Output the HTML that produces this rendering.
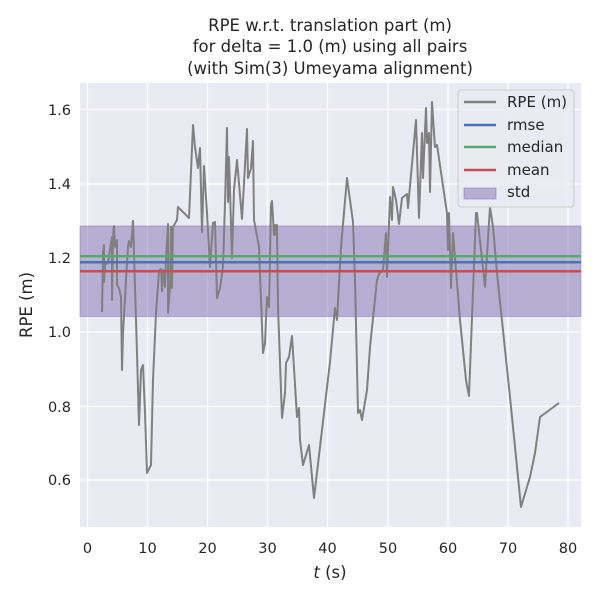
<!DOCTYPE html>
<html><head><meta charset="utf-8"><style>body{margin:0;background:#fff}svg{display:block}</style></head><body>
<svg width="600" height="600" xmlns="http://www.w3.org/2000/svg" font-family="'DejaVu Sans','Liberation Sans',sans-serif">
<rect width="600" height="600" fill="#fff"/>
<rect x="80" y="83" width="501" height="444" fill="#eaeaf2"/>
<g stroke="#fff" stroke-width="1.2">
<line x1="87.5" y1="83" x2="87.5" y2="527"/><line x1="147.5" y1="83" x2="147.5" y2="527"/><line x1="207.5" y1="83" x2="207.5" y2="527"/><line x1="267.5" y1="83" x2="267.5" y2="527"/><line x1="327.5" y1="83" x2="327.5" y2="527"/><line x1="388" y1="83" x2="388" y2="527"/><line x1="448" y1="83" x2="448" y2="527"/><line x1="508" y1="83" x2="508" y2="527"/><line x1="568" y1="83" x2="568" y2="527"/>
<line x1="80" y1="109.5" x2="581" y2="109.5"/><line x1="80" y1="184" x2="581" y2="184"/><line x1="80" y1="258" x2="581" y2="258"/><line x1="80" y1="332" x2="581" y2="332"/><line x1="80" y1="406.5" x2="581" y2="406.5"/><line x1="80" y1="480" x2="581" y2="480"/>
</g>
<rect x="80" y="226" width="501" height="90.5" fill="#8172b3" fill-opacity="0.5" stroke="#8172b3" stroke-opacity="0.5"/>
<polyline fill="none" stroke="#808080" stroke-width="2" stroke-linejoin="round" points="102,312 103,253 104,245 104,282 105,265 108,262 109,257 111,243 112,237 112,300 113,237 114,226 115,247 117,240 117,285 119,288 121,297 122,370 123,333 126,280 128,247 129,241 131,247 133,221 135,287 137,353 139,425 141,370 143,365 145,413 147,473 151,465 153,380 156,313 159,271 161,269 162,291 163,270 165,287 166,260 168,224 168,313 170,287 171,227 172,288 173,227 177,220 178,207 189,218 193,125 195,147 198,168 200,148 202,232 204,166 207,213 210,267 213,223 215,222 217,298 220,288 223,267 225,203 227,128 228,202 229,157 232,258 234,190 237,160 242,219 247,129 248,178 251,168 253,141 254,220 259,247 263,353 265,343 267,297 269,307 271,205 272,201 274,235 275,225 276,235 277,225 278,307 282,418 285,393 286,363 289,357 292,336 297,417 299,408 300,440 303,465 309,445 314,498 330,362 335,308 337,320 341,247 347,178 353,222 355,280 358,413 360,410 362,420 367,390 370,347 377,280 379,274 383,270 386,233 387,277 390,197 392,220 393,187 396,200 399,224 402,198 407,194 408,208 416,120 419,218 422,133 423,178 426,108 427,143 429,133 430,192 432,102 435,147 437,145 447,213 448,250 449,213 451,288 453,233 460,320 466,380 469,396 476,213 477,213 485,287 490,207 493,227 497,273 510,397 521,507 530,477 535,453 540,417 559,403"/>
<line x1="80" y1="262.3" x2="581" y2="262.3" stroke="#4c72b0" stroke-width="2.5"/>
<line x1="80" y1="256.3" x2="581" y2="256.3" stroke="#55a868" stroke-width="2.5"/>
<line x1="80" y1="271.3" x2="581" y2="271.3" stroke="#c44e52" stroke-width="2.5"/>
<rect x="458" y="90" width="116" height="117" rx="3" fill="#eaeaf2" fill-opacity="0.8" stroke="#ccc"/>
<g stroke-width="2.5"><line x1="464" y1="102" x2="496" y2="102" stroke="#808080"/><line x1="464" y1="125" x2="496" y2="125" stroke="#4c72b0"/><line x1="464" y1="147" x2="496" y2="147" stroke="#55a868"/><line x1="464" y1="170" x2="496" y2="170" stroke="#c44e52"/></g>
<rect x="464" y="188" width="32" height="11" fill="#8172b3" fill-opacity="0.5" stroke="#8172b3" stroke-opacity="0.5"/>
<g font-size="15" fill="#262626"><text x="507" y="107">RPE (m)</text><text x="507" y="130">rmse</text><text x="507" y="152">median</text><text x="507" y="175">mean</text><text x="507" y="197">std</text></g>
<g font-size="14.5" fill="#262626" text-anchor="end"><text x="71" y="115">1.6</text><text x="71" y="189">1.4</text><text x="71" y="263">1.2</text><text x="71" y="337">1.0</text><text x="71" y="412">0.8</text><text x="71" y="485">0.6</text></g>
<g font-size="14.5" fill="#262626" text-anchor="middle"><text x="87.5" y="553">0</text><text x="147.5" y="553">10</text><text x="207.5" y="553">20</text><text x="267.5" y="553">30</text><text x="327.5" y="553">40</text><text x="388" y="553">50</text><text x="448" y="553">60</text><text x="508" y="553">70</text><text x="568" y="553">80</text>
<text x="330" y="578" font-size="16.5"><tspan font-style="italic">t</tspan> (s)</text>
<text x="330" y="31" font-size="16.5">RPE w.r.t. translation part (m)</text><text x="330" y="52" font-size="16.5">for delta = 1.0 (m) using all pairs</text><text x="330" y="74" font-size="16.5">(with Sim(3) Umeyama alignment)</text>
<text transform="translate(32,305) rotate(-90)" font-size="16.5">RPE (m)</text></g>
</svg>
</body></html>
